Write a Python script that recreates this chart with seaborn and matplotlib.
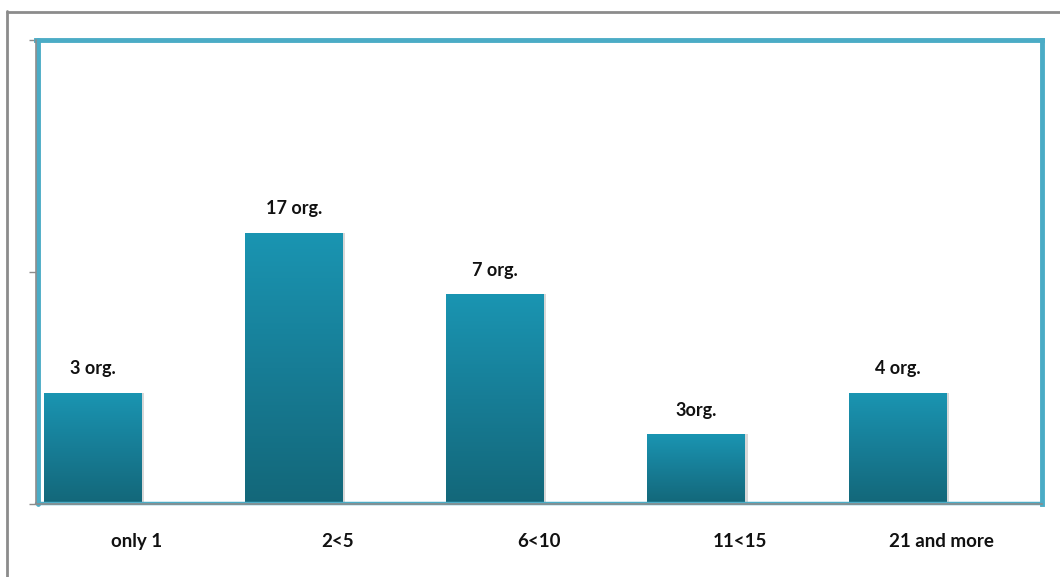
import numpy as np
import pandas as pd
import matplotlib
matplotlib.use("Agg")
import matplotlib.pyplot as plt
import seaborn as sns
from matplotlib.colors import LinearSegmentedColormap
from matplotlib.lines import Line2D

categories = ["only 1", "2<5", "6<10", "11<15", "21 and more"]
values = [4.8, 11.7, 9.05, 3.0, 4.8]
bar_labels = ["3 org.", "17 org.", "7 org.", "3org.", "4 org."]

df = pd.DataFrame({"cat": categories, "val": values})

sns.set_theme(style="white")
plt.rcParams["font.family"] = ["Lato", "DejaVu Sans"]

fig = plt.figure(figsize=(10.6, 5.77), dpi=100)
ax = fig.add_axes([36 / 1060, 1 - 504 / 577, (1042 - 36) / 1060, (504 - 40) / 577])

bar_w = 0.486
shift = 0.218
sns.barplot(data=df, x="cat", y="val", ax=ax, color="#1a93b0", width=bar_w,
            saturation=1, edgecolor="none", zorder=2)

ax.set_ylim(0, 20)
ax.set_xlim(-0.5 + shift, len(categories) - 0.5 + shift)

# gradient fill
cmap = LinearSegmentedColormap.from_list("g", ["#136779", "#177d96", "#1a95b2"])
grad = np.linspace(0, 1, 256).reshape(-1, 1)
for p in ax.patches:
    x0, y0 = p.get_x(), p.get_y()
    w, h = p.get_width(), p.get_height()
    im = ax.imshow(grad, cmap=cmap, origin="lower", aspect="auto",
                   extent=(x0, x0 + w, y0, y0 + h), zorder=3)
    im.set_clip_path(p)
    # subtle shadow
    ax.add_patch(plt.Rectangle((x0 + w, y0), 0.012, h, color="#d8d8d8", zorder=1, lw=0))

# labels above bars
for i, (v, lab) in enumerate(zip(values, bar_labels)):
    ax.annotate(lab, (i, v), xytext=(0, 11), textcoords="offset points",
                ha="center", va="bottom", fontsize=13, fontweight="bold", color="#111111")

# x ticks: labels at category centers, tick marks at boundaries
centers = np.arange(len(categories)) + shift
ax.set_xticks(centers)
ax.set_xticklabels(categories, fontsize=13.5, fontweight="bold", color="#111111")
ax.set_xlabel("")
ax.set_ylabel("")
ax.tick_params(axis="x", which="major", length=0, pad=21)
ax.set_xticks(np.arange(len(categories) + 1) - 0.5 + shift, minor=True)
ax.tick_params(axis="x", which="minor", length=5, width=1, color="#8c8c8c", direction="out")

ax.set_yticks([0, 10, 20])
ax.set_yticklabels([])
ax.tick_params(axis="y", length=5, width=1, color="#8c8c8c", direction="out", left=True)

teal = "#4bacc6"
for side in ["top", "right"]:
    ax.spines[side].set_color(teal)
    ax.spines[side].set_linewidth(3.5)
for side in ["left", "bottom"]:
    ax.spines[side].set_color("#8c8c8c")
    ax.spines[side].set_linewidth(1.2)
    ax.spines[side].set_zorder(5)
# teal band just inside left and bottom
ax.add_line(Line2D([0.002, 0.002], [0, 1], transform=ax.transAxes, color=teal, lw=3.5, zorder=4, clip_on=False))
ax.add_line(Line2D([0, 1], [0.003, 0.003], transform=ax.transAxes, color=teal, lw=2.5, zorder=4, clip_on=False))

# outer gray frame
fig.add_artist(Line2D([6.5 / 1060, 6.5 / 1060], [0, 1 - 11 / 577], transform=fig.transFigure,
                      color="#8c8c8c", lw=2))
fig.add_artist(Line2D([6.5 / 1060, 1], [1 - 11.5 / 577, 1 - 11.5 / 577], transform=fig.transFigure,
                      color="#8c8c8c", lw=2))

fig.savefig("out.png", dpi=100, facecolor="white")
